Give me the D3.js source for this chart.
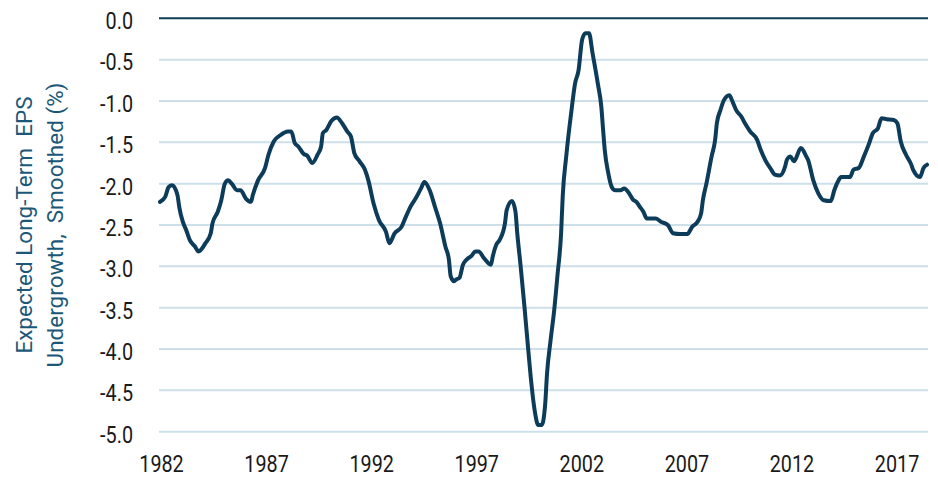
<!DOCTYPE html>
<html>
<head>
<meta charset="utf-8">
<script src="https://cdn.jsdelivr.net/npm/d3@7"></script>
<style>
  body { margin: 0; background: #fff; }
  svg { display: block; }
</style>
</head>
<body>
<div id="chart"></div>
<script>
// monthly points (smoothed series)
var months = [
  "1982-01","1982-04","1982-06","1982-08","1982-11","1982-12","1983-02","1983-04","1983-06","1983-09",
  "1983-11","1984-03","1984-06","1984-07","1984-10","1984-12","1985-02","1985-04","1985-06","1985-09",
  "1985-11","1986-02","1986-05","1986-06","1986-09","1987-01","1987-03","1987-06","1987-10","1988-02",
  "1988-04","1988-06","1988-08","1988-11","1989-01","1989-04","1989-07","1989-09","1989-10","1989-12",
  "1990-03","1990-06","1990-09","1990-12","1991-02","1991-04","1991-07","1991-10","1991-12","1992-03",
  "1992-06","1992-10","1992-12","1993-03","1993-07","1993-09","1993-12","1994-03","1994-06","1994-08",
  "1994-11","1995-02","1995-05","1995-08","1995-10","1995-11","1996-01","1996-02","1996-04","1996-06",
  "1996-08","1996-11","1997-01","1997-03","1997-06","1997-10","1997-11","1998-01","1998-03","1998-06",
  "1998-07","1998-10","1998-12","1999-01","1999-03","1999-05","1999-07","1999-09","1999-11","2000-01",
  "2000-03","2000-05","2000-06","2000-08","2000-10","2000-12","2001-02","2001-03","2001-05","2001-08",
  "2001-10","2001-12","2002-02","2002-04","2002-06","2002-08","2002-11","2003-01","2003-02","2003-03",
  "2003-05","2003-07","2003-09","2003-12","2004-02","2004-05","2004-07","2004-09","2004-11","2005-01",
  "2005-03","2005-08","2005-11","2006-03","2006-06","2006-10","2007-02","2007-05","2007-08","2007-10",
  "2007-11","2008-01","2008-04","2008-06","2008-07","2008-09","2008-11","2009-02","2009-04","2009-06",
  "2009-09","2009-11","2010-02","2010-06","2010-08","2010-11","2011-02","2011-04","2011-07","2011-10",
  "2011-11","2012-01","2012-03","2012-07","2012-10","2012-11","2013-02","2013-05","2013-08","2013-12",
  "2014-02","2014-04","2014-06","2014-11","2015-01","2015-04","2015-07","2015-10","2015-12","2016-03",
  "2016-05","2016-08","2016-12","2017-02","2017-04","2017-07","2017-10","2017-11","2018-03","2018-05",
  "2018-07"
];
var undergrowth = [
  -2.22,-2.16,-2.04,-2.02,-2.14,-2.28,-2.46,-2.56,-2.68,-2.76,
  -2.82,-2.72,-2.60,-2.48,-2.34,-2.20,-2.00,-1.96,-2.00,-2.08,
  -2.08,-2.18,-2.22,-2.14,-1.96,-1.81,-1.65,-1.49,-1.41,-1.37,
  -1.37,-1.51,-1.55,-1.64,-1.66,-1.75,-1.65,-1.55,-1.39,-1.35,
  -1.24,-1.20,-1.27,-1.37,-1.43,-1.63,-1.73,-1.83,-1.96,-2.24,
  -2.44,-2.58,-2.72,-2.60,-2.52,-2.42,-2.28,-2.18,-2.06,-1.98,
  -2.08,-2.28,-2.48,-2.76,-2.92,-3.12,-3.18,-3.16,-3.14,-2.98,
  -2.92,-2.87,-2.82,-2.82,-2.90,-2.98,-2.88,-2.74,-2.68,-2.48,
  -2.32,-2.21,-2.34,-2.60,-3.00,-3.45,-3.93,-4.40,-4.75,-4.92,
  -4.92,-4.66,-4.30,-3.90,-3.55,-3.10,-2.60,-2.15,-1.67,-1.11,
  -0.79,-0.63,-0.26,-0.18,-0.18,-0.42,-0.79,-1.07,-1.35,-1.59,
  -1.87,-2.04,-2.08,-2.08,-2.06,-2.12,-2.19,-2.22,-2.28,-2.34,
  -2.42,-2.42,-2.46,-2.50,-2.60,-2.61,-2.61,-2.52,-2.46,-2.36,
  -2.20,-2.00,-1.67,-1.47,-1.27,-1.11,-0.99,-0.93,-1.01,-1.11,
  -1.19,-1.27,-1.37,-1.47,-1.59,-1.73,-1.83,-1.89,-1.90,-1.79,
  -1.71,-1.67,-1.73,-1.57,-1.67,-1.71,-1.96,-2.12,-2.20,-2.21,
  -2.08,-1.98,-1.92,-1.92,-1.83,-1.81,-1.67,-1.51,-1.39,-1.33,
  -1.21,-1.22,-1.23,-1.27,-1.49,-1.65,-1.77,-1.83,-1.92,-1.81,
  -1.77
];
var yTicks = [0, -0.5, -1, -1.5, -2, -2.5, -3, -3.5, -4, -4.5, -5];
var xTickYears = [1982, 1987, 1992, 1997, 2002, 2007, 2012, 2017];

var width = 938, height = 481;
var parseMonth = d3.timeParse("%Y-%m");

var data = months.map(function (m, i) {
    return { date: parseMonth(m), value: undergrowth[i] };
});

var x = d3.scaleTime()
    .domain([parseMonth("1982-01"), parseMonth("2018-07")])
    .range([160, 927]);

var y = d3.scaleLinear()
    .domain([-5, 0])
    .range([431.7, 18.3]);

var svg = d3.select("#chart")
    .append("svg")
    .attr("width", width)
    .attr("height", height);

// gridlines
svg.selectAll(".grid")
    .data(yTicks.filter(function (d) { return d !== 0; }))
    .enter()
    .append("line")
    .attr("x1", 159)
    .attr("x2", 928)
    .attr("y1", function (d) { return y(d); })
    .attr("y2", function (d) { return y(d); })
    .style("stroke", "#cde0ea")
    .style("stroke-width", 2);

// zero line
svg.append("line")
    .attr("x1", 159)
    .attr("x2", 928)
    .attr("y1", y(0))
    .attr("y2", y(0))
    .style("stroke", "#0f3d58")
    .style("stroke-width", 2);

// plain hyphen for negatives, like the original
var fmt = function (d) { return d3.format(".1f")(d).replace("\u2212", "-"); };

// y axis labels
var yAxis = d3.axisLeft(y)
    .tickValues(yTicks)
    .tickSize(0)
    .tickPadding(0)
    .tickFormat(fmt);

var gy = svg.append("g")
    .attr("transform", "translate(133,0)")
    .call(yAxis);
gy.select(".domain").remove();
gy.selectAll("text")
    .attr("dy", "0.45em")
    .attr("transform", "scale(0.86,1)")
    .style("font-family", "Roboto, sans-serif")
    .style("font-size", "23px")
    .style("fill", "#1a1a1a");

// x axis labels
var xAxis = d3.axisBottom(x)
    .tickValues(xTickYears.map(function (yr) { return new Date(yr, 0, 1); }))
    .tickSize(0)
    .tickPadding(0)
    .tickFormat(d3.timeFormat("%Y"));

var gx = svg.append("g")
    .attr("transform", "translate(1,456)")
    .call(xAxis);
gx.select(".domain").remove();
gx.selectAll("text")
    .attr("dy", "0.71em")
    .attr("transform", "scale(0.86,1)")
    .style("font-family", "Roboto, sans-serif")
    .style("font-size", "23px")
    .style("fill", "#1a1a1a");

// series line
var line = d3.line()
    .x(function (d) { return x(d.date); })
    .y(function (d) { return y(d.value); })
    .curve(d3.curveMonotoneX);

svg.append("path")
    .datum(data)
    .attr("d", line)
    .style("fill", "none")
    .style("stroke", "#0c3c59")
    .style("stroke-width", 4)
    .style("stroke-linejoin", "round")
    .style("stroke-linecap", "round");

// y axis title, two lines
var title = svg.append("text")
    .attr("transform", "translate(0,225) rotate(-90)")
    .attr("text-anchor", "middle")
    .style("font-family", "Roboto, sans-serif")
    .style("font-size", "22.5px")
    .style("white-space", "pre")
    .style("fill", "#1b5878");

title.append("tspan")
    .attr("x", 0)
    .attr("y", 32)
    .text("Expected Long-Term  EPS");

title.append("tspan")
    .attr("x", 0)
    .attr("y", 63)
    .text("Undergrowth,  Smoothed (%)");
</script>
</body>
</html>
